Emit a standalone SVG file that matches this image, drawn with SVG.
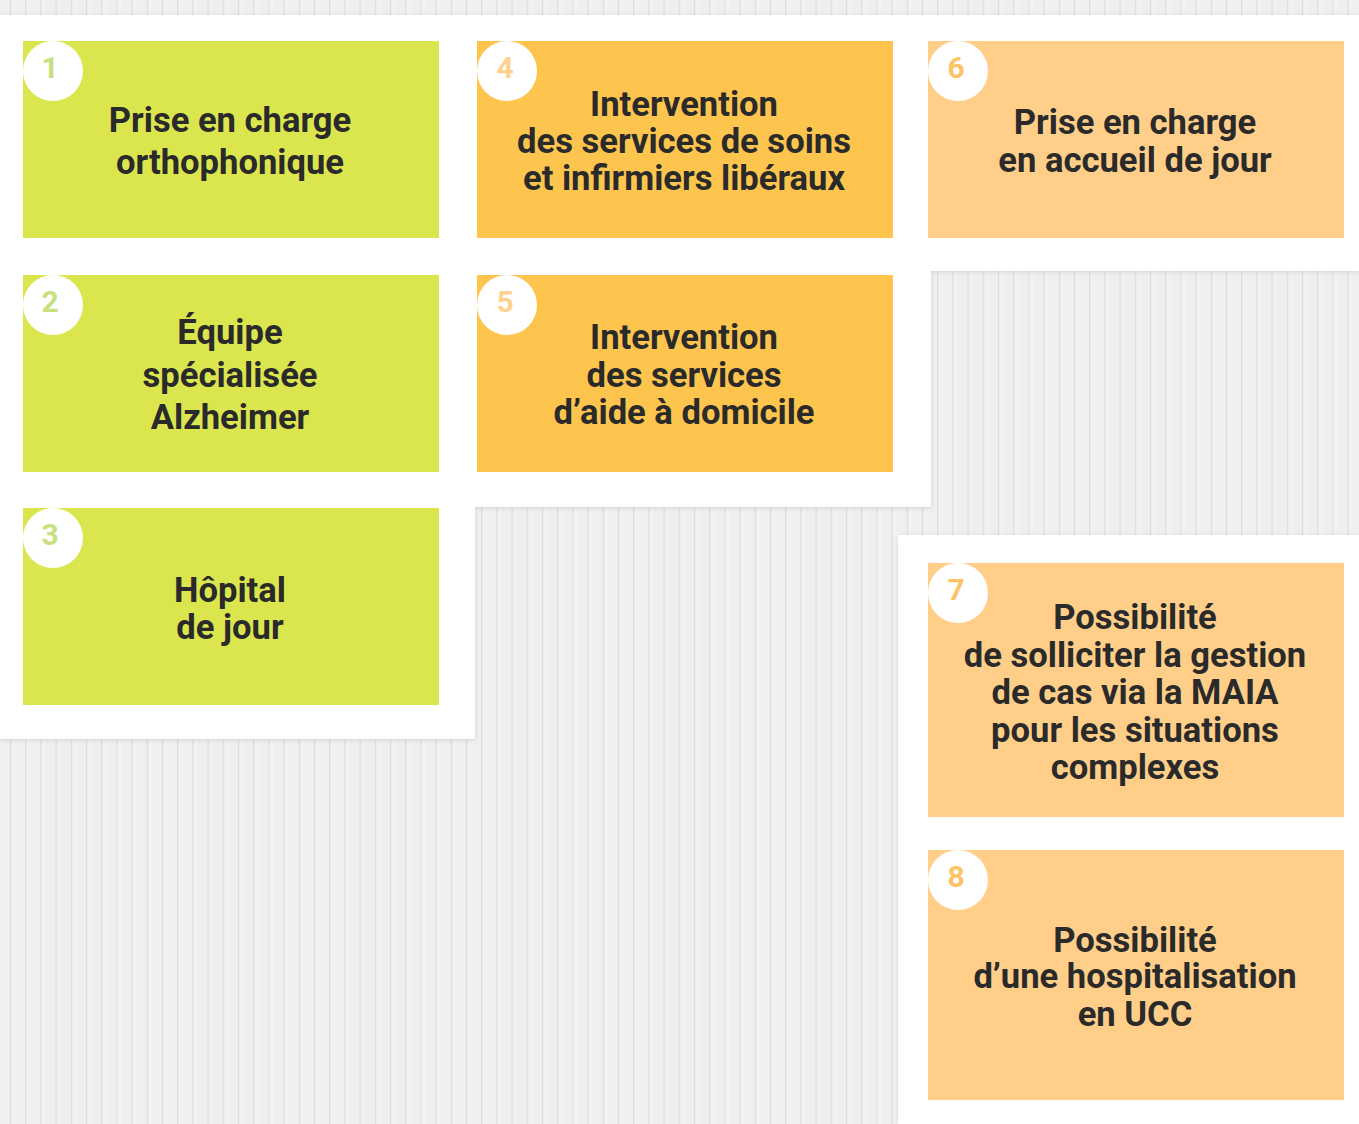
<svg xmlns="http://www.w3.org/2000/svg" width="1359" height="1124" viewBox="0 0 1359 1124">
<defs>
<pattern id="stripes" x="10" y="0" width="15.2" height="20" patternUnits="userSpaceOnUse">
<rect x="0" y="0" width="15.2" height="20" fill="#efefef"/>
<rect x="0" y="0" width="1.4" height="20" fill="#dcdcdc"/>
<rect x="1.4" y="0" width="4" height="20" fill="#f2f2f2"/>
</pattern>
<filter id="sh" x="-5%" y="-5%" width="110%" height="110%">
<feDropShadow dx="0" dy="1" stdDeviation="2" flood-color="#000" flood-opacity="0.12"/>
</filter>
</defs>
<style>
.t{font-family:Roboto,"Liberation Sans",Arial,sans-serif;font-weight:700;font-size:34.6px;fill:#2a2a2a;text-anchor:middle}
.n{font-family:Roboto,"Liberation Sans",Arial,sans-serif;font-weight:700;font-size:30px;text-anchor:middle}
.g{fill:#dbe64f}.y{fill:#fdc54e}.o{fill:#ffcf8a}
.ng{fill:#c8e07e}.ny{fill:#fed18e}.no{fill:#fdc466}
.c{fill:#ffffff}
</style>
<rect width="1359" height="1124" fill="url(#stripes)"/>
<g id="panels" fill="#ffffff" filter="url(#sh)">
<polygon points="0,15 1359,15 1359,271 931,271 931,507 475,507 475,739 0,739"/>
<rect x="898" y="535" width="461" height="589"/>
</g>
<g id="connectors"/>
<g id="node1">
<rect class="g" x="23" y="41" width="416" height="197"/>
<circle class="c" cx="53" cy="71" r="30"/>
<text class="n ng" x="50" y="78">1</text>
<text class="t" x="230" y="132">Prise en charge</text>
<text class="t" x="230" y="174">orthophonique</text>
</g>
<g id="node2">
<rect class="g" x="23" y="275" width="416" height="197"/>
<circle class="c" cx="53" cy="305" r="30"/>
<text class="n ng" x="50" y="312">2</text>
<text class="t" x="230" y="344">Équipe</text>
<text class="t" x="230" y="387">spécialisée</text>
<text class="t" x="230" y="429">Alzheimer</text>
</g>
<g id="node3">
<rect class="g" x="23" y="508" width="416" height="197"/>
<circle class="c" cx="53" cy="538" r="30"/>
<text class="n ng" x="50" y="545">3</text>
<text class="t" x="230" y="602">Hôpital</text>
<text class="t" x="230" y="639">de jour</text>
</g>
<g id="node4">
<rect class="y" x="477" y="41" width="416" height="197"/>
<circle class="c" cx="507" cy="71" r="30"/>
<text class="n ny" x="505" y="78">4</text>
<text class="t" x="684" y="116">Intervention</text>
<text class="t" x="684" y="153">des services de soins</text>
<text class="t" x="684" y="190">et infirmiers libéraux</text>
</g>
<g id="node5">
<rect class="y" x="477" y="275" width="416" height="197"/>
<circle class="c" cx="507" cy="305" r="30"/>
<text class="n ny" x="505" y="312">5</text>
<text class="t" x="684" y="349">Intervention</text>
<text class="t" x="684" y="387">des services</text>
<text class="t" x="684" y="424">d’aide à domicile</text>
</g>
<g id="node6">
<rect class="o" x="928" y="41" width="416" height="197"/>
<circle class="c" cx="958" cy="71" r="30"/>
<text class="n no" x="956" y="78">6</text>
<text class="t" x="1135" y="134">Prise en charge</text>
<text class="t" x="1135" y="172">en accueil de jour</text>
</g>
<g id="node7">
<rect class="o" x="928" y="563" width="416" height="254"/>
<circle class="c" cx="958" cy="593" r="30"/>
<text class="n no" x="956" y="600">7</text>
<text class="t" x="1135" y="629">Possibilité</text>
<text class="t" x="1135" y="667">de solliciter la gestion</text>
<text class="t" x="1135" y="704">de cas via la MAIA</text>
<text class="t" x="1135" y="742">pour les situations</text>
<text class="t" x="1135" y="779">complexes</text>
</g>
<g id="node8">
<rect class="o" x="928" y="850" width="416" height="250"/>
<circle class="c" cx="958" cy="880" r="30"/>
<text class="n no" x="956" y="887">8</text>
<text class="t" x="1135" y="952">Possibilité</text>
<text class="t" x="1135" y="988">d’une hospitalisation</text>
<text class="t" x="1135" y="1026">en UCC</text>
</g>
</svg>
